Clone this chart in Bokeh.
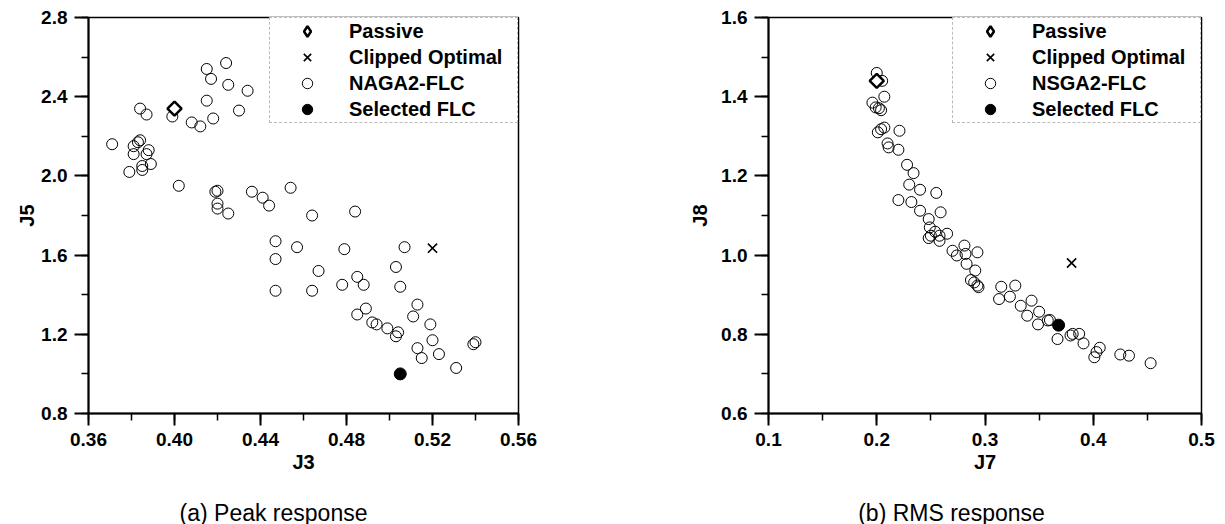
import numpy as np
from bokeh.plotting import figure
from bokeh.layouts import row, column
from bokeh.models import FixedTicker, PrintfTickFormatter, Legend, LegendItem, Range1d
from bokeh.core.properties import value
from bokeh.embed import file_html
from bokeh.resources import INLINE

# ---------------- (a) Peak response : J3 vs J5 ----------------
j3_flc = [0.371, 0.384, 0.387, 0.399, 0.408, 0.412, 0.415, 0.417, 0.424, 0.425,
          0.415, 0.418, 0.430, 0.434, 0.384, 0.383, 0.381, 0.381, 0.388, 0.387,
          0.389, 0.385, 0.385, 0.379, 0.402, 0.419, 0.420, 0.420, 0.420, 0.425,
          0.436, 0.441, 0.444, 0.454, 0.464, 0.484, 0.447, 0.447, 0.447, 0.457,
          0.479, 0.507, 0.467, 0.464, 0.478, 0.485, 0.488, 0.503, 0.505, 0.513,
          0.511, 0.519, 0.489, 0.485, 0.492, 0.494, 0.499, 0.504, 0.503, 0.520,
          0.513, 0.515, 0.523, 0.531, 0.539, 0.540]
j5_flc = [2.16, 2.34, 2.31, 2.30, 2.27, 2.25, 2.54, 2.49, 2.57, 2.46,
          2.38, 2.29, 2.33, 2.43, 2.18, 2.17, 2.15, 2.11, 2.13, 2.11,
          2.06, 2.05, 2.03, 2.02, 1.95, 1.92, 1.925, 1.86, 1.835, 1.81,
          1.92, 1.89, 1.85, 1.94, 1.80, 1.82, 1.67, 1.58, 1.42, 1.64,
          1.63, 1.64, 1.52, 1.42, 1.45, 1.49, 1.45, 1.54, 1.44, 1.35,
          1.29, 1.25, 1.33, 1.30, 1.26, 1.25, 1.23, 1.21, 1.19, 1.17,
          1.13, 1.08, 1.10, 1.03, 1.15, 1.16]
j3_passive, j5_passive = [0.400], [2.34]
j3_clipped, j5_clipped = [0.520], [1.635]
j3_selected, j5_selected = [0.505], [1.00]

a_xticks = [0.36, 0.40, 0.44, 0.48, 0.52, 0.56]
a_yticks = [0.8, 1.2, 1.6, 2.0, 2.4, 2.8]

# ---------------- (b) RMS response : J7 vs J8 ----------------
j7_flc = [0.200, 0.205, 0.207, 0.196, 0.199, 0.202, 0.204, 0.207, 0.204, 0.201,
          0.221, 0.210, 0.211, 0.220, 0.228, 0.234, 0.230, 0.220, 0.232, 0.240,
          0.255, 0.240, 0.259, 0.248, 0.249, 0.254, 0.258, 0.265, 0.250, 0.258,
          0.248, 0.270, 0.274, 0.281, 0.282, 0.293, 0.283, 0.291, 0.287, 0.290,
          0.293, 0.294, 0.315, 0.328, 0.313, 0.323, 0.333, 0.343, 0.339, 0.350,
          0.349, 0.358, 0.360, 0.367, 0.379, 0.381, 0.387, 0.391, 0.401, 0.403,
          0.406, 0.425, 0.433, 0.453]
j8_flc = [1.460, 1.440, 1.400, 1.385, 1.373, 1.371, 1.366, 1.322, 1.318, 1.310,
          1.314, 1.282, 1.272, 1.266, 1.228, 1.207, 1.178, 1.139, 1.134, 1.165,
          1.157, 1.112, 1.108, 1.091, 1.070, 1.059, 1.049, 1.054, 1.049, 1.036,
          1.043, 1.011, 0.999, 1.024, 1.003, 1.007, 0.978, 0.961, 0.937, 0.931,
          0.923, 0.919, 0.920, 0.923, 0.889, 0.895, 0.872, 0.885, 0.847, 0.857,
          0.825, 0.835, 0.836, 0.788, 0.797, 0.801, 0.801, 0.777, 0.742, 0.755,
          0.766, 0.749, 0.746, 0.727]
j7_passive, j8_passive = [0.200], [1.44]
j7_clipped, j8_clipped = [0.380], [0.98]
j7_selected, j8_selected = [0.368], [0.823]

b_xticks = [0.1, 0.2, 0.3, 0.4, 0.5]
b_yticks = [0.6, 0.8, 1.0, 1.2, 1.4, 1.6]

captions = ["(a) Peak response", "(b) RMS response"]

FONT = "Liberation Sans"
PLOT_H = 484      # height of the two chart panels
CAPTION_H = 40    # strip under them that holds the sub-figure captions


def midpoints(ticks):
    t = np.asarray(ticks, dtype=float)
    return list(np.concatenate([t, (t[:-1] + t[1:]) / 2.0]))


def style_axis(ax, tick_out, label_standoff):
    ax.axis_line_color = "black"
    ax.axis_line_width = 2
    ax.major_tick_line_color = "black"
    ax.major_tick_line_width = 2
    ax.minor_tick_line_color = "black"
    ax.minor_tick_line_width = 1.5
    ax.major_tick_in = 0
    ax.major_tick_out = tick_out
    ax.minor_tick_in = 0
    ax.minor_tick_out = 7
    ax.major_label_text_font = FONT
    ax.major_label_text_font_style = "bold"
    ax.major_label_text_font_size = "19px"
    ax.major_label_text_color = "black"
    ax.major_label_standoff = 7
    ax.axis_label_text_font = FONT
    ax.axis_label_text_font_style = "bold"
    ax.axis_label_text_font_size = "20px"
    ax.axis_label_text_color = "black"
    ax.axis_label_standoff = label_standoff


def panel(xs, ys, xp, yp, xc, yc, xsel, ysel, xr, yr, xticks, yticks, xfmt, yfmt,
          xlabel, ylabel, flc_name, width, border_left, border_right, ylabel_standoff):
    p = figure(width=width, height=PLOT_H, x_range=xr, y_range=yr,
               output_backend="svg", toolbar_location=None,
               min_border_left=border_left, min_border_right=border_right,
               min_border_top=17, min_border_bottom=PLOT_H - 413)
    p.xgrid.visible = False
    p.ygrid.visible = False
    p.outline_line_color = "black"
    p.outline_line_width = 1.5
    p.outline_line_alpha = 1.0
    p.background_fill_color = "white"
    p.border_fill_color = "white"

    p.xaxis.ticker = FixedTicker(ticks=xticks, minor_ticks=midpoints(xticks))
    p.yaxis.ticker = FixedTicker(ticks=yticks, minor_ticks=midpoints(yticks))
    p.xaxis.formatter = PrintfTickFormatter(format=xfmt)
    p.yaxis.formatter = PrintfTickFormatter(format=yfmt)
    p.xaxis.axis_label = xlabel
    p.yaxis.axis_label = ylabel
    for ax in p.xaxis:
        style_axis(ax, 12, 2)
    for ax in p.yaxis:
        style_axis(ax, 14, ylabel_standoff)

    r_flc = p.scatter(xs, ys, marker="circle", size=11, fill_color=None,
                      line_color="black", line_width=1)
    # diamond swatch used by the legend; it sits hidden under the passive marker
    r_pas_key = p.scatter(xp, yp, marker="diamond", size=1,
                          fill_color="white", line_color="black", line_width=2.5)
    p.scatter(xp, yp, marker="square", angle=np.pi / 4, size=10,
              fill_color="white", line_color="black", line_width=2.5)
    r_clip = p.scatter(xc, yc, marker="x", size=13, line_color="black", line_width=1.6)
    r_sel = p.scatter(xsel, ysel, marker="circle", size=12, fill_color="black",
                      line_color="black", line_width=1)

    legend = Legend(
        items=[LegendItem(label="Passive", renderers=[r_pas_key]),
               LegendItem(label="Clipped Optimal", renderers=[r_clip]),
               LegendItem(label=flc_name, renderers=[r_flc]),
               LegendItem(label="Selected FLC", renderers=[r_sel])],
        location="top_right", margin=0, padding=0, spacing=0,
        glyph_width=74, glyph_height=26, label_height=20, label_width=168,
        label_standoff=5,
        label_text_font=FONT, label_text_font_style="bold",
        label_text_font_size="20px", label_text_color="black",
        border_line_color="#777777", border_line_dash="dotted", border_line_width=1.5,
        background_fill_color="white", background_fill_alpha=1.0,
    )
    p.add_layout(legend)
    return p


pa = panel(j3_flc, j5_flc, j3_passive, j5_passive, j3_clipped, j5_clipped,
           j3_selected, j5_selected, (0.36, 0.56), (0.8, 2.8), a_xticks, a_yticks,
           "%.2f", "%.1f", "J3", "J5", "NAGA2-FLC",
           width=612, border_left=88, border_right=94, ylabel_standoff=0)

pb = panel(j7_flc, j8_flc, j7_passive, j8_passive, j7_clipped, j8_clipped,
           j7_selected, j8_selected, (0.1, 0.5), (0.6, 1.6), b_xticks, b_yticks,
           "%.1f", "%.1f", "J7", "J8", "NSGA2-FLC",
           width=613, border_left=156, border_right=24, ylabel_standoff=7)

# caption strip: a pixel-scaled blank canvas carrying the two sub-figure captions
cap = figure(width=1225, height=CAPTION_H, x_range=Range1d(0, 1225),
             y_range=Range1d(0, CAPTION_H), x_axis_type=None, y_axis_type=None,
             output_backend="svg", toolbar_location=None, min_border=0)
cap.outline_line_color = None
cap.xgrid.visible = False
cap.ygrid.visible = False
cap.text(x=[273, 951], y=[12, 12], text=captions, text_align="center",
         text_baseline="middle", text_font=value(FONT), text_font_size="23px",
         text_color="black")

layout = column(row(pa, pb), cap)
open("out.html", "w").write(file_html(layout, INLINE))
